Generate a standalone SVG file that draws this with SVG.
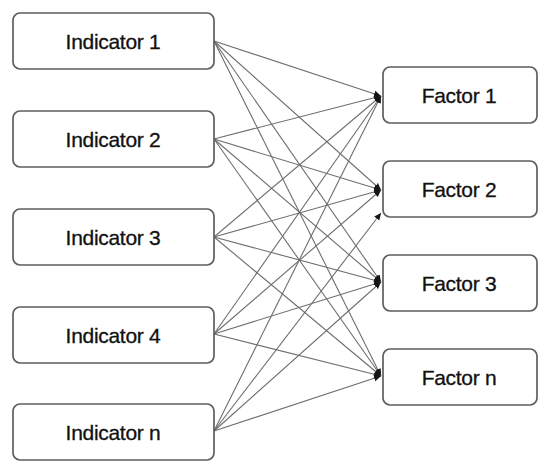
<svg xmlns="http://www.w3.org/2000/svg" width="550" height="471" viewBox="0 0 550 471">
<style>
.box{fill:#fff;stroke:#5e5e5e;stroke-width:1.7}
.lbl{font-family:"Liberation Sans",Arial,sans-serif;font-size:21px;fill:#111;stroke:#111;stroke-width:0.3;text-anchor:middle;letter-spacing:-0.3px}
.edge{stroke:#6e6e6e;stroke-width:1.1;fill:none}
</style>
<defs>
<marker id="ah" markerUnits="userSpaceOnUse" markerWidth="8" markerHeight="8" refX="7" refY="4" orient="auto">
<path d="M0,0.8 L7,4 L0,7.2 Z" fill="#151515"/>
</marker>
</defs>
<rect width="550" height="471" fill="#fff"/>
<g id="connectors">
<line class="edge" x1="214" y1="41" x2="381" y2="96" marker-end="url(#ah)"/>
<line class="edge" x1="214" y1="41" x2="381" y2="190" marker-end="url(#ah)"/>
<line class="edge" x1="214" y1="41" x2="381" y2="282" marker-end="url(#ah)"/>
<line class="edge" x1="214" y1="41" x2="381" y2="376" marker-end="url(#ah)"/>
<line class="edge" x1="214" y1="139" x2="381" y2="96" marker-end="url(#ah)"/>
<line class="edge" x1="214" y1="139" x2="381" y2="190" marker-end="url(#ah)"/>
<line class="edge" x1="214" y1="139" x2="381" y2="282" marker-end="url(#ah)"/>
<line class="edge" x1="214" y1="139" x2="381" y2="376" marker-end="url(#ah)"/>
<line class="edge" x1="214" y1="237" x2="381" y2="96" marker-end="url(#ah)"/>
<line class="edge" x1="214" y1="237" x2="381" y2="190" marker-end="url(#ah)"/>
<line class="edge" x1="214" y1="237" x2="381" y2="282" marker-end="url(#ah)"/>
<line class="edge" x1="214" y1="237" x2="381" y2="376" marker-end="url(#ah)"/>
<line class="edge" x1="214" y1="334" x2="381" y2="96" marker-end="url(#ah)"/>
<line class="edge" x1="214" y1="334" x2="381" y2="190" marker-end="url(#ah)"/>
<line class="edge" x1="214" y1="334" x2="381" y2="282" marker-end="url(#ah)"/>
<line class="edge" x1="214" y1="334" x2="381" y2="376" marker-end="url(#ah)"/>
<line class="edge" x1="214" y1="431" x2="381" y2="96" marker-end="url(#ah)"/>
<line class="edge" x1="214" y1="431" x2="381" y2="213" marker-end="url(#ah)"/>
<line class="edge" x1="214" y1="431" x2="381" y2="282" marker-end="url(#ah)"/>
<line class="edge" x1="214" y1="431" x2="381" y2="376" marker-end="url(#ah)"/>
</g>
<g id="indicator1"><rect class="box" x="13" y="13" width="201" height="56" rx="7"/><text class="lbl" x="113" y="48.5">Indicator 1</text></g>
<g id="indicator2"><rect class="box" x="13" y="111" width="201" height="56" rx="7"/><text class="lbl" x="113" y="146.5">Indicator 2</text></g>
<g id="indicator3"><rect class="box" x="13" y="209" width="201" height="56" rx="7"/><text class="lbl" x="113" y="244.5">Indicator 3</text></g>
<g id="indicator4"><rect class="box" x="13" y="307" width="201" height="56" rx="7"/><text class="lbl" x="113" y="342.5">Indicator 4</text></g>
<g id="indicatorn"><rect class="box" x="13" y="404" width="201" height="56" rx="7"/><text class="lbl" x="113" y="439.5">Indicator n</text></g>
<g id="factor1"><rect class="box" x="383" y="67" width="154" height="56" rx="7"/><text class="lbl" x="459" y="102.5">Factor 1</text></g>
<g id="factor2"><rect class="box" x="383" y="161" width="154" height="56" rx="7"/><text class="lbl" x="459" y="196.5">Factor 2</text></g>
<g id="factor3"><rect class="box" x="383" y="255" width="154" height="56" rx="7"/><text class="lbl" x="459" y="290.5">Factor 3</text></g>
<g id="factorn"><rect class="box" x="383" y="349" width="154" height="56" rx="7"/><text class="lbl" x="459" y="384.5">Factor n</text></g>
</svg>
